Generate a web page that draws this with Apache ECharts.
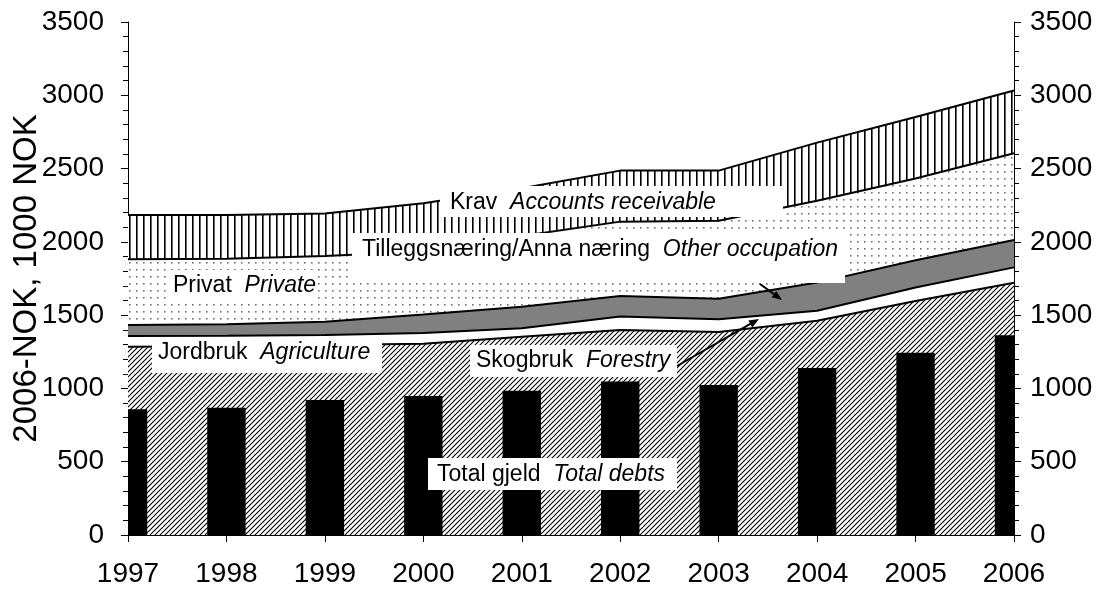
<!DOCTYPE html>
<html>
<head>
<meta charset="utf-8">
<script src="https://cdn.jsdelivr.net/npm/echarts@6.0.0/dist/echarts.min.js"></script>
<style>
html, body { margin: 0; padding: 0; background: #fff; }
#main { width: 1099px; height: 591px; }
</style>
</head>
<body>
<div id="main"></div>
<script>
// data, 1000 NOK (2006 value)
var years = ['1997', '1998', '1999', '2000', '2001', '2002', '2003', '2004', '2005', '2006']
var totalDebts = [858, 868, 921, 948, 984, 1048, 1023, 1139, 1244, 1362]
var agriculture = [1285, 1288, 1296, 1305, 1353, 1399, 1385, 1462, 1596, 1721]
var forestry = [73, 72, 68, 73, 57, 91, 87, 68, 92, 105]
var otherOccupation = [75, 78, 91, 127, 148, 141, 140, 192, 187, 187]
var privateDebt = [448, 447, 448, 430, 482, 507, 532, 559, 557, 591]
var accountsReceivable = [303, 299, 291, 329, 325, 348, 342, 396, 420, 429]
var yMin = 0
var yMax = 3500
var yStep = 500

var FONT = '"Liberation Sans", Arial, sans-serif'

// fill patterns
function makePattern(size, draw) {
  var c = document.createElement('canvas')
  c.width = size
  c.height = size
  var ctx = c.getContext('2d')
  ctx.fillStyle = '#fff'
  ctx.fillRect(0, 0, size, size)
  draw(ctx, size)
  return { image: c, repeat: 'repeat' }
}
var hatchFill = makePattern(5, function(ctx, s) {
  ctx.strokeStyle = '#000'
  ctx.lineWidth = 1.1
  ctx.beginPath()
  ctx.moveTo(-1, s + 1); ctx.lineTo(s + 1, -1)
  ctx.moveTo(-1, 1); ctx.lineTo(1, -1)
  ctx.moveTo(s - 1, s + 1); ctx.lineTo(s + 1, s - 1)
  ctx.stroke()
})
var dotFill = makePattern(7, function(ctx, s) {
  ctx.fillStyle = '#707070'
  ctx.fillRect(3, 3, 1.6, 1.6)
})
var stripeFill = makePattern(7, function(ctx, s) {
  ctx.fillStyle = '#000'
  ctx.fillRect(3, 0, 1.6, s)
})

function areaSeries(name, data, fill) {
  return {
    name: name,
    type: 'line',
    stack: 'debt',
    data: data,
    symbol: 'none',
    z: 1,
    lineStyle: { color: '#000', width: 2 },
    areaStyle: { color: fill, opacity: 1 }
  }
}

// bars centred on the year ticks, cut at the plot edges
function renderBar(params, api) {
  var top = api.coord([api.value(0), api.value(1)])
  var base = api.coord([api.value(0), 0])
  var w = api.size([1, 0])[0] * 0.39
  var cs = params.coordSys
  var rect = echarts.graphic.clipRectByRect(
    { x: top[0] - w / 2, y: top[1], width: w, height: base[1] - top[1] },
    { x: cs.x, y: cs.y, width: cs.width, height: cs.height }
  )
  return rect && { type: 'rect', shape: rect, style: { fill: '#000' } }
}

// annotation boxes
function label(x, y, w, h, tx, ty, normal, italic) {
  return [
    { type: 'rect', z: 50, shape: { x: x, y: y, width: w, height: h }, style: { fill: '#fff' } },
    {
      type: 'text', z: 51, x: tx, y: ty,
      style: {
        text: '{a|' + normal + '\u00a0\u00a0}{b|' + italic + '}',
        verticalAlign: 'middle',
        align: 'left',
        rich: {
          a: { fontSize: 23, fontFamily: FONT, fill: '#000' },
          b: { fontSize: 23, fontFamily: FONT, fontStyle: 'italic', fill: '#000' }
        }
      }
    }
  ]
}
function arrow(x1, y1, x2, y2) {
  var a = Math.atan2(y2 - y1, x2 - x1)
  var L = 10, W = 4
  var bx = x2 - L * Math.cos(a), by = y2 - L * Math.sin(a)
  return [
    { type: 'line', z: 52, shape: { x1: x1, y1: y1, x2: bx, y2: by }, style: { stroke: '#000', lineWidth: 2 } },
    {
      type: 'polygon', z: 52,
      shape: { points: [[x2, y2], [bx + W * Math.sin(a), by - W * Math.cos(a)], [bx - W * Math.sin(a), by + W * Math.cos(a)]] },
      style: { fill: '#000' }
    }
  ]
}

var graphics = [].concat(
  label(440, 186, 343, 31, 450, 203, 'Krav', 'Accounts receivable'),
  label(352, 233, 493, 50, 362, 250, 'Tilleggsnæring/Anna næring', 'Other occupation'),
  label(167, 270, 150, 33, 173, 286, 'Privat', 'Private'),
  label(152, 337, 230, 36, 158, 353, 'Jordbruk', 'Agriculture'),
  label(470, 345, 207, 32, 476, 361, 'Skogbruk', 'Forestry'),
  label(428, 458, 249, 32, 437, 475, 'Total gjeld', 'Total debts'),
  arrow(677, 366, 759, 319),
  arrow(760, 284, 782, 300)
)

var yAxisBase = {
  type: 'value',
  min: yMin,
  max: yMax,
  interval: yStep,
  axisLine: { show: true, lineStyle: { color: '#000', width: 1 } },
  axisTick: { show: true, length: 7, lineStyle: { color: '#000' } },
  minorTick: { show: true, splitNumber: 5, length: 5, lineStyle: { color: '#000' } },
  splitLine: { show: false },
  axisLabel: {
    color: '#000', fontSize: 28, fontFamily: FONT,
    formatter: function(v) { return String(v) }
  }
}

var option = {
  animation: false,
  backgroundColor: '#fff',
  grid: { left: 128, right: 85, top: 22, bottom: 56, containLabel: false, outerBoundsMode: 'none' },
  xAxis: {
    type: 'category',
    data: years,
    boundaryGap: false,
    axisLine: { lineStyle: { color: '#000', width: 1 } },
    axisTick: { show: true, length: 7, lineStyle: { color: '#000' } },
    axisLabel: { color: '#000', fontSize: 28, fontFamily: FONT, margin: 25 }
  },
  yAxis: [
    Object.assign({}, yAxisBase, {
      position: 'left',
      name: '2006-NOK, 1000 NOK',
      nameLocation: 'middle',
      nameRotate: 90,
      nameGap: 85,
      nameMoveOverlap: false,
      nameTextStyle: { color: '#000', fontSize: 33, fontFamily: FONT },
      axisLabel: Object.assign({}, yAxisBase.axisLabel, { margin: 24 })
    }),
    Object.assign({}, yAxisBase, {
      position: 'right',
      axisLabel: Object.assign({}, yAxisBase.axisLabel, { margin: 16 })
    })
  ],
  series: [
    areaSeries('Jordbruk', agriculture, hatchFill),
    areaSeries('Skogbruk', forestry, '#fff'),
    areaSeries('Tilleggsnæring', otherOccupation, '#808080'),
    areaSeries('Privat', privateDebt, dotFill),
    areaSeries('Krav', accountsReceivable, stripeFill),
    {
      name: 'Total gjeld',
      type: 'custom',
      renderItem: renderBar,
      data: totalDebts.map(function(v, i) { return [i, v] }),
      encode: { x: 0, y: 1 },
      z: 3
    }
  ],
  graphic: graphics
}

var myChart = echarts.init(document.getElementById('main'))
myChart.setOption(option)
</script>
</body>
</html>
